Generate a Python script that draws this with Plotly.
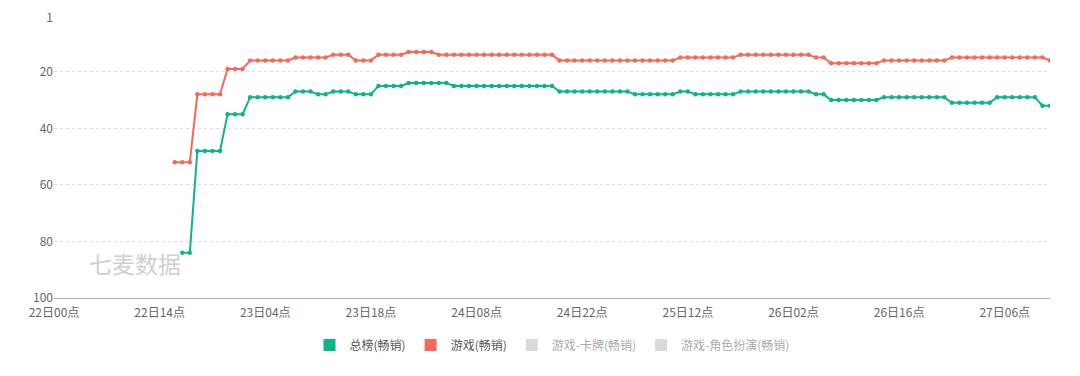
import plotly.graph_objects as go

# ---- categories: hourly labels 22日00点 .. 27日12点 ----
days = [22, 23, 24, 25, 26, 27]
time_labels = []
for d in days:
    for h in range(24):
        time_labels.append(f"{d}日{h:02d}点")
time_labels = time_labels[:133]
tick_labels = time_labels[::14]

# ---- series values (rank, hourly) ----
game_start = 16  # index of first red point
game_rank = [
    52, 52, 52,
    28, 28, 28, 28,
    19, 19, 19,
    16, 16, 16, 16, 16, 16,
    15, 15, 15, 15, 15,
    14, 14, 14,
    16, 16, 16,
    14, 14, 14, 14,
    13, 13, 13, 13,
    14, 14, 14, 14, 14, 14, 14, 14, 14, 14, 14, 14, 14, 14, 14, 14,
    16, 16, 16, 16, 16, 16, 16, 16, 16, 16, 16, 16, 16, 16, 16, 16,
    15, 15, 15, 15, 15, 15, 15, 15,
    14, 14, 14, 14, 14, 14, 14, 14, 14, 14,
    15, 15,
    17, 17, 17, 17, 17, 17, 17,
    16, 16, 16, 16, 16, 16, 16, 16, 16,
    15, 15, 15, 15, 15, 15, 15, 15, 15, 15, 15, 15, 15,
    16,
]

total_start = 17  # index of first green point
total_rank = [
    84, 84,
    48, 48, 48, 48,
    35, 35, 35,
    29, 29, 29, 29, 29, 29,
    27, 27, 27,
    28, 28,
    27, 27, 27,
    28, 28, 28,
    25, 25, 25, 25,
    24, 24, 24, 24, 24, 24,
    25, 25, 25, 25, 25, 25, 25, 25, 25, 25, 25, 25, 25, 25,
    27, 27, 27, 27, 27, 27, 27, 27, 27, 27,
    28, 28, 28, 28, 28, 28,
    27, 27,
    28, 28, 28, 28, 28, 28,
    27, 27, 27, 27, 27, 27, 27, 27, 27, 27,
    28, 28,
    30, 30, 30, 30, 30, 30, 30,
    29, 29, 29, 29, 29, 29, 29, 29, 29,
    31, 31, 31, 31, 31, 31,
    29, 29, 29, 29, 29, 29,
    32, 32,
]

y_ticks = [1, 20, 40, 60, 80, 100]

series_names = ["总榜(畅销)", "游戏(畅销)", "游戏-卡牌(畅销)", "游戏-角色扮演(畅销)"]
GREEN = "#0db38a"
RED = "#f5695a"
GREY = "#b5b5b5"

fig = go.Figure()

fig.add_trace(go.Scatter(
    x=time_labels[total_start:total_start + len(total_rank)], y=total_rank,
    mode="lines+markers", line=dict(color=GREEN, width=2),
    marker=dict(color=GREEN, size=4.5), showlegend=False, name=series_names[0],
))
fig.add_trace(go.Scatter(
    x=time_labels[game_start:game_start + len(game_rank)], y=game_rank,
    mode="lines+markers", line=dict(color=RED, width=2),
    marker=dict(color=RED, size=4.5), showlegend=False, name=series_names[1],
))

# legend entries (square icons)
legend_colors = [GREEN, RED, GREY, GREY]
legend_vis = [True, True, "legendonly", "legendonly"]
for name, col, vis in zip(series_names, legend_colors, legend_vis):
    fig.add_trace(go.Scatter(
        x=[None], y=[None], mode="markers", name=name, visible=vis,
        marker=dict(symbol="square", size=12, color=col),
    ))

fig.add_annotation(
    text="七麦数据", xref="paper", yref="paper", x=0.0815, y=0.125,
    xanchor="center", yanchor="middle",
    showarrow=False, font=dict(size=23, color="#cfcfcf", family="Noto Sans CJK SC"),
)

fig.update_layout(
    width=1080, height=376,
    margin=dict(l=54, r=30, t=18, b=78, autoexpand=False),
    paper_bgcolor="white", plot_bgcolor="white",
    font=dict(family="Noto Sans CJK SC, sans-serif", size=12, color="#666666"),
    showlegend=True,
    legend=dict(orientation="h", x=0.5, xanchor="center", y=-0.168, yanchor="middle",
                font=dict(size=12, color="#555555"), itemwidth=30,
                itemclick=False, itemdoubleclick=False),
    xaxis=dict(
        type="category", categoryorder="array", categoryarray=time_labels,
        range=[0, 132], tickvals=tick_labels, ticktext=tick_labels,
        showgrid=False, showline=True, linecolor="#aab2bf", linewidth=1,
        ticks="", tickfont=dict(size=12, color="#666666"), zeroline=False,
        ticklabelstandoff=4,
    ),
    yaxis=dict(
        range=[100, 1], tickvals=y_ticks, showgrid=True, gridcolor="#dddddd",
        griddash="dot", gridwidth=1, zeroline=False, showline=False, ticks="",
        tickfont=dict(size=12, color="#666666"),
    ),
)

fig.write_html(
    "out.html",
    config={"displayModeBar": False},
    post_script="document.body.style.margin='0';document.body.style.overflow='hidden';",
)
